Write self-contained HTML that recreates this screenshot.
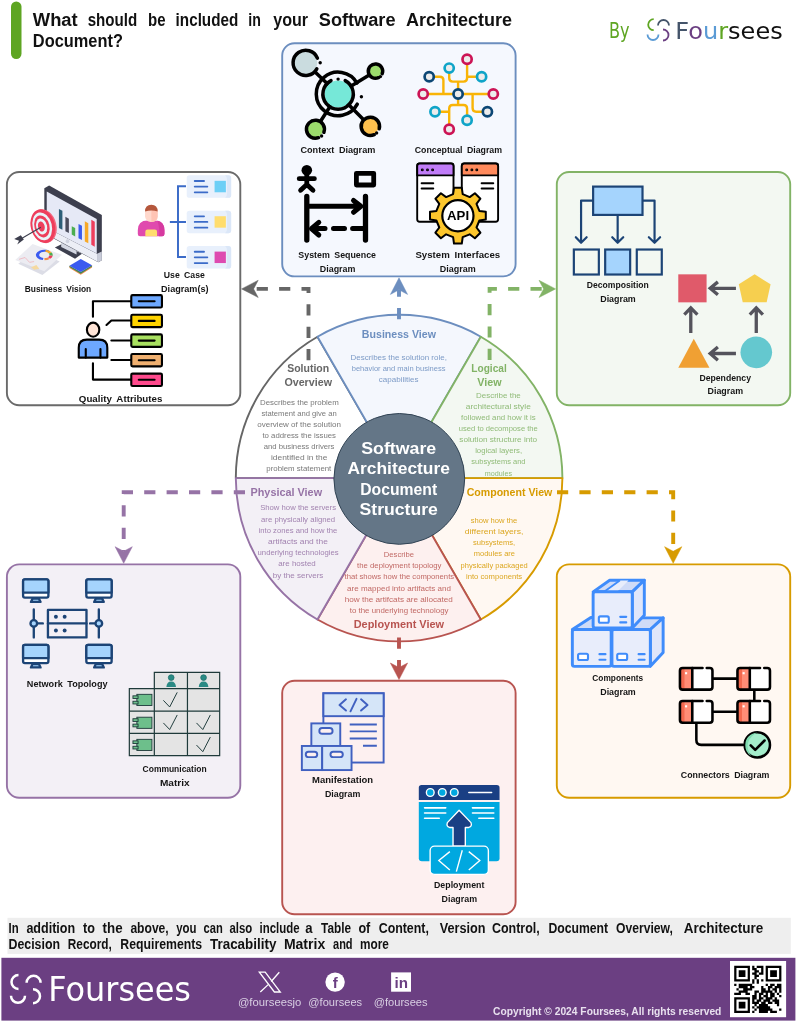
<!DOCTYPE html>
<html lang="en">
<head>
<meta charset="utf-8">
<title>What should be included in your Software Architecture Document?</title>
<style>
html,body{margin:0;padding:0;background:#fff;}
body{width:797px;height:1024px;overflow:hidden;position:relative;font-family:"Liberation Sans",sans-serif;}
svg{position:absolute;left:0;top:0;display:block;will-change:transform;}
text{font-family:"Liberation Sans",sans-serif;}
.dj{font-family:"DejaVu Sans","Liberation Sans",sans-serif;}
.lbl{font-weight:bold;font-size:8.9px;fill:#151515;text-anchor:middle;word-spacing:.22em;transform:translateY(.5px);}
.ttl{font-weight:bold;font-size:11px;text-anchor:middle;}
.dsc{font-size:8px;text-anchor:middle;fill-opacity:.88;}
.ctr{font-weight:bold;font-size:15.6px;text-anchor:middle;}
</style>
</head>
<body>
<svg width="797" height="1024" viewBox="0 0 797 1024">
<!-- ===== header ===== -->
<g id="header">
<rect x="11" y="1.5" width="10.5" height="57.5" rx="5.2" fill="#5ea522"/>
<text x="32.8" y="25.8" font-size="18.8" font-weight="bold" fill="#111" textLength="44.9" lengthAdjust="spacingAndGlyphs">What</text>
<text x="87.7" y="25.8" font-size="18.8" font-weight="bold" fill="#111" textLength="49.6" lengthAdjust="spacingAndGlyphs">should</text>
<text x="148" y="25.8" font-size="18.8" font-weight="bold" fill="#111" textLength="17.5" lengthAdjust="spacingAndGlyphs">be</text>
<text x="175.6" y="25.8" font-size="18.8" font-weight="bold" fill="#111" textLength="62.7" lengthAdjust="spacingAndGlyphs">included</text>
<text x="248.3" y="25.8" font-size="18.8" font-weight="bold" fill="#111" textLength="12.6" lengthAdjust="spacingAndGlyphs">in</text>
<text x="273.2" y="25.8" font-size="18.8" font-weight="bold" fill="#111" textLength="34.9" lengthAdjust="spacingAndGlyphs">your</text>
<text x="318.8" y="25.8" font-size="18.8" font-weight="bold" fill="#111" textLength="76.7" lengthAdjust="spacingAndGlyphs">Software</text>
<text x="405.9" y="25.8" font-size="18.8" font-weight="bold" fill="#111" textLength="106.1" lengthAdjust="spacingAndGlyphs">Architecture</text>

<text x="32.8" y="47.3" font-size="18.8" font-weight="bold" fill="#111" textLength="90.1" lengthAdjust="spacingAndGlyphs">Document?</text>

<text x="609" y="38" font-size="20.5" class="dj" fill="#5ea522" textLength="20.6" lengthAdjust="spacingAndGlyphs">By</text>
<g fill="none" stroke-width="1.8" stroke-linecap="butt"><path d="M653.7,19.2 A5.5,5.5 0 0 0 653.7,30.2" stroke="#5ea522"/><path d="M658.0,25.5 A5.5,5.5 0 0 1 669.0,25.5" stroke="#44546a"/><path d="M647.5,34.5 A5.5,5.5 0 0 0 658.5,34.5" stroke="#5b9bd5"/><path d="M663,29.5 A5.5,5.5 0 0 1 663,40.5" stroke="#6b3f82"/></g>
<text x="675.3" y="39" font-size="23.3" class="dj" textLength="107.4" lengthAdjust="spacingAndGlyphs"><tspan fill="#44546a">F</tspan><tspan fill="#6b3f82">o</tspan><tspan fill="#5b9bd5">u</tspan><tspan fill="#5ea522">r</tspan><tspan fill="#111">sees</tspan></text>
</g>
<!-- ===== boxes ===== -->
<g id="boxes" stroke-width="1.9">
<rect x="282.2" y="43.2" width="233.4" height="233.2" rx="12.3" fill="#f5f8fe" stroke="#6c8ebf"/>
<rect x="6.9" y="172" width="233.4" height="233.3" rx="12.3" fill="#ffffff" stroke="#6a6a6a"/>
<rect x="556.8" y="172" width="233.4" height="233.3" rx="12.3" fill="#f3f8f2" stroke="#82b366"/>
<rect x="6.9" y="564.4" width="233.4" height="233.3" rx="12.3" fill="#f3f0f6" stroke="#9673a6"/>
<rect x="556.8" y="564.4" width="233.4" height="233.3" rx="12.3" fill="#fff8f2" stroke="#d79b00"/>
<rect x="282.2" y="680.7" width="233.4" height="233.6" rx="12.3" fill="#fdf0f0" stroke="#b85450"/>
</g>
<!-- ===== wheel ===== -->
<g id="wheel" stroke-width="1.9" stroke-linejoin="round">
<path d="M399.1,478.1 L317.5,336.7 A163.3,163.3 0 0 0 235.8,478.1 Z" fill="#ffffff" stroke="#666666"/>
<path d="M399.1,478.1 L480.8,336.7 A163.3,163.3 0 0 0 317.5,336.7 Z" fill="#f4f7fd" stroke="#6c8ebf"/>
<path d="M399.1,478.1 L562.4,478.1 A163.3,163.3 0 0 0 480.8,336.7 Z" fill="#f3f8f2" stroke="#82b366"/>
<path d="M399.1,478.1 L480.8,619.5 A163.3,163.3 0 0 0 562.4,478.1 Z" fill="#fff8f2" stroke="#d79b00"/>
<path d="M399.1,478.1 L317.5,619.5 A163.3,163.3 0 0 0 480.8,619.5 Z" fill="#fdf0ef" stroke="#b85450"/>
<path d="M399.1,478.1 L235.8,478.1 A163.3,163.3 0 0 0 317.4,619.5 Z" fill="#f3f0f6" stroke="#9673a6"/>
</g>
<!-- ===== arrows ===== -->
<g id="arrows" fill="none" stroke-width="3.9" stroke-dasharray="11.2 11.2">
<path d="M308.5,360.3 L308.5,288.9 L254,288.9" stroke="#666666"/>
<polygon points="241.6,288.9 258.2,280.3 253.6,288.9 258.2,297.5" fill="#666666" stroke="#666666" stroke-width="0.5" stroke-linejoin="miter" stroke-dasharray="none"/>
<path d="M489.6,360.0 L489.6,288.9 L543,288.9" stroke="#82b366"/>
<polygon points="555.6,288.9 539.0,297.5 543.6,288.9 539.0,280.3" fill="#82b366" stroke="#82b366" stroke-width="0.5" stroke-linejoin="miter" stroke-dasharray="none"/>
<path d="M399,319.2 L399,290" stroke="#6c8ebf"/>
<polygon points="399.0,277.8 407.6,294.4 399.0,289.8 390.4,294.4" fill="#6c8ebf" stroke="#6c8ebf" stroke-width="0.5" stroke-linejoin="miter" stroke-dasharray="none"/>
<path d="M399,637.6 L399,668" stroke="#b85450"/>
<polygon points="399.0,679.6 390.4,663.0 399.0,667.6 407.6,663.0" fill="#b85450" stroke="#b85450" stroke-width="0.5" stroke-linejoin="miter" stroke-dasharray="none"/>
<path d="M245,492.2 L123.7,492.2 L123.7,551" stroke="#9673a6"/>
<polygon points="123.7,563.3 115.1,546.7 123.7,551.3 132.3,546.7" fill="#9673a6" stroke="#9673a6" stroke-width="0.5" stroke-linejoin="miter" stroke-dasharray="none"/>
<path d="M557,492.2 L673.2,492.2 L673.2,551" stroke="#d79b00"/>
<polygon points="673.2,563.3 664.6,546.7 673.2,551.3 681.8,546.7" fill="#d79b00" stroke="#d79b00" stroke-width="0.5" stroke-linejoin="miter" stroke-dasharray="none"/>
</g>
<!-- ===== wtext ===== -->
<g id="wheeltext">
<circle cx="399.3" cy="478.9" r="65.4" fill="#647687" stroke="#314354" stroke-width="1"/>
<text class="ctr" x="398.7" y="454.2" fill="#ffffff" textLength="74.9" lengthAdjust="spacingAndGlyphs">Software</text>
<text class="ctr" x="398.7" y="474.3" fill="#ffffff" textLength="102.4" lengthAdjust="spacingAndGlyphs">Architecture</text>
<text class="ctr" x="398.7" y="494.8" fill="#ffffff" textLength="76.9" lengthAdjust="spacingAndGlyphs">Document</text>
<text class="ctr" x="398.7" y="514.9" fill="#ffffff" textLength="78.3" lengthAdjust="spacingAndGlyphs">Structure</text>
<text class="ttl" x="308.2" y="371.9" fill="#666666" textLength="42.0" lengthAdjust="spacingAndGlyphs">Solution</text>
<text class="ttl" x="308.2" y="386.4" fill="#666666" textLength="47.6" lengthAdjust="spacingAndGlyphs">Overview</text>
<text class="dsc" x="299.4" y="404.9" fill="#666666" textLength="78.9" lengthAdjust="spacingAndGlyphs">Describes the problem</text>
<text class="dsc" x="299.1" y="416.0" fill="#666666" textLength="75.1" lengthAdjust="spacingAndGlyphs">statement and give an</text>
<text class="dsc" x="299.1" y="426.9" fill="#666666" textLength="83.6" lengthAdjust="spacingAndGlyphs">overview of the solution</text>
<text class="dsc" x="299.2" y="438.0" fill="#666666" textLength="73.6" lengthAdjust="spacingAndGlyphs">to address the issues</text>
<text class="dsc" x="299.1" y="449.1" fill="#666666" textLength="70.8" lengthAdjust="spacingAndGlyphs">and business drivers</text>
<text class="dsc" x="299.2" y="460.0" fill="#666666" textLength="56.5" lengthAdjust="spacingAndGlyphs">identified in the</text>
<text class="dsc" x="298.8" y="471.3" fill="#666666" textLength="65.0" lengthAdjust="spacingAndGlyphs">problem statement</text>
<text class="ttl" x="398.9" y="337.5" fill="#6c8ebf" textLength="74.1" lengthAdjust="spacingAndGlyphs">Business View</text>
<text class="dsc" x="398.7" y="360.2" fill="#6c8ebf" textLength="96.4" lengthAdjust="spacingAndGlyphs">Describes the solution role,</text>
<text class="dsc" x="398.6" y="371.2" fill="#6c8ebf" textLength="93.8" lengthAdjust="spacingAndGlyphs">behavior and main business</text>
<text class="dsc" x="398.6" y="381.9" fill="#6c8ebf" textLength="39.6" lengthAdjust="spacingAndGlyphs">capabilities</text>
<text class="ttl" x="489.0" y="371.6" fill="#82b366" textLength="35.4" lengthAdjust="spacingAndGlyphs">Logical</text>
<text class="ttl" x="489.4" y="386.0" fill="#82b366" textLength="24.3" lengthAdjust="spacingAndGlyphs">View</text>
<text class="dsc" x="498.4" y="398.0" fill="#82b366" textLength="44.8" lengthAdjust="spacingAndGlyphs">Describe the</text>
<text class="dsc" x="498.3" y="409.0" fill="#82b366" textLength="65.0" lengthAdjust="spacingAndGlyphs">architectural style</text>
<text class="dsc" x="498.4" y="419.9" fill="#82b366" textLength="74.6" lengthAdjust="spacingAndGlyphs">followed and how it is</text>
<text class="dsc" x="498.3" y="431.0" fill="#82b366" textLength="79.0" lengthAdjust="spacingAndGlyphs">used to decompose the</text>
<text class="dsc" x="498.2" y="442.2" fill="#82b366" textLength="77.8" lengthAdjust="spacingAndGlyphs">solution structure into</text>
<text class="dsc" x="498.6" y="453.3" fill="#82b366" textLength="46.9" lengthAdjust="spacingAndGlyphs">logical layers,</text>
<text class="dsc" x="498.4" y="464.4" fill="#82b366" textLength="54.2" lengthAdjust="spacingAndGlyphs">subsystems and</text>
<text class="dsc" x="498.4" y="475.6" fill="#82b366" textLength="27.2" lengthAdjust="spacingAndGlyphs">modules</text>
<text class="ttl" x="509.5" y="496.3" fill="#d79b00" textLength="85.7" lengthAdjust="spacingAndGlyphs">Component View</text>
<text class="dsc" x="494.0" y="522.7" fill="#d79b00" textLength="46.6" lengthAdjust="spacingAndGlyphs">show how the</text>
<text class="dsc" x="494.1" y="533.8" fill="#d79b00" textLength="58.5" lengthAdjust="spacingAndGlyphs">different layers,</text>
<text class="dsc" x="494.1" y="545.0" fill="#d79b00" textLength="42.2" lengthAdjust="spacingAndGlyphs">subsystems,</text>
<text class="dsc" x="494.4" y="556.4" fill="#d79b00" textLength="41.3" lengthAdjust="spacingAndGlyphs">modules are</text>
<text class="dsc" x="494.2" y="567.5" fill="#d79b00" textLength="67.2" lengthAdjust="spacingAndGlyphs">physically packaged</text>
<text class="dsc" x="494.1" y="578.6" fill="#d79b00" textLength="56.2" lengthAdjust="spacingAndGlyphs">into components</text>
<text class="dsc" x="398.9" y="557.1" fill="#b85450" textLength="30.1" lengthAdjust="spacingAndGlyphs">Describe</text>
<text class="dsc" x="399.3" y="568.1" fill="#b85450" textLength="84.4" lengthAdjust="spacingAndGlyphs">the deployment topology</text>
<text class="dsc" x="399.3" y="579.4" fill="#b85450" textLength="109.6" lengthAdjust="spacingAndGlyphs">that shows how the components</text>
<text class="dsc" x="399.0" y="590.6" fill="#b85450" textLength="103.8" lengthAdjust="spacingAndGlyphs">are mapped into artifacts and</text>
<text class="dsc" x="398.8" y="601.6" fill="#b85450" textLength="108.2" lengthAdjust="spacingAndGlyphs">how the artifcats are allocated</text>
<text class="dsc" x="399.1" y="612.7" fill="#b85450" textLength="98.8" lengthAdjust="spacingAndGlyphs">to the underlying technology</text>
<text class="ttl" x="398.9" y="628.0" fill="#b85450" textLength="90.4" lengthAdjust="spacingAndGlyphs">Deployment View</text>
<text class="ttl" x="286.3" y="496.3" fill="#9673a6" textLength="71.6" lengthAdjust="spacingAndGlyphs">Physical View</text>
<text class="dsc" x="298.1" y="510.4" fill="#9673a6" textLength="75.9" lengthAdjust="spacingAndGlyphs">Show how the servers</text>
<text class="dsc" x="298.1" y="521.8" fill="#9673a6" textLength="74.1" lengthAdjust="spacingAndGlyphs">are physically aligned</text>
<text class="dsc" x="298.0" y="532.9" fill="#9673a6" textLength="78.7" lengthAdjust="spacingAndGlyphs">into zones and how the</text>
<text class="dsc" x="297.9" y="543.8" fill="#9673a6" textLength="59.8" lengthAdjust="spacingAndGlyphs">artifacts and the</text>
<text class="dsc" x="298.1" y="555.2" fill="#9673a6" textLength="81.1" lengthAdjust="spacingAndGlyphs">underlying technologies</text>
<text class="dsc" x="297.0" y="566.3" fill="#9673a6" textLength="37.6" lengthAdjust="spacingAndGlyphs">are hosted</text>
<text class="dsc" x="298.1" y="577.5" fill="#9673a6" textLength="50.6" lengthAdjust="spacingAndGlyphs">by the servers</text>
</g>
<!-- ===== box_top ===== -->
<g id="box_top">
<g fill="none" stroke="#000" stroke-width="3.5" stroke-linecap="round">
<path d="M305.7,62.9 L338.1,94 M375.4,71.2 L338.1,94 M315.4,129.2 L338.1,94 M370.3,126.4 L338.1,94"/>
<path d="M357.3,104.2 A21.8,21.8 0 1 1 357.0,83.1"/>
<circle cx="361.4" cy="96.8" r="1.7" fill="#000" stroke="none"/>
<circle cx="338.1" cy="94" r="13.6" fill="#76e8d8" stroke="none"/>
<path d="M345.2,80.6 A15.2,15.2 0 1 1 331.0,80.6"/>
<circle cx="338.1" cy="79.1" r="1.7" fill="#000" stroke="none"/>
<circle cx="305.7" cy="62.9" r="11.5" fill="#cadcdf" stroke="none"/>
<path d="M316.8,68.8 A12.6,12.6 0 1 1 317.4,58.2"/>
<circle cx="320.2" cy="62.7" r="1.7" fill="#000" stroke="none"/>
<circle cx="375.4" cy="71.2" r="6.2" fill="#9cdc6c" stroke="none"/>
<path d="M378.4,77.7 A7.2,7.2 0 1 1 382.2,73.7"/>
<circle cx="380.4" cy="76.6" r="1.7" fill="#000" stroke="none"/>
<circle cx="315.4" cy="129.2" r="8" fill="#9cdc6c" stroke="none"/>
<path d="M318.5,137.7 A9,9 0 1 1 323.9,132.3"/>
<circle cx="321.6" cy="136" r="1.7" fill="#000" stroke="none"/>
<circle cx="370.3" cy="126.4" r="8.2" fill="#fdc04e" stroke="none"/>
<path d="M374.2,134.7 A9.2,9.2 0 1 1 379.2,128.8"/>
<circle cx="376.6" cy="133" r="1.7" fill="#000" stroke="none"/>
</g>
<g fill="none" stroke="#f9b406" stroke-width="2.4" stroke-linecap="butt">
<path d="M467.1,63 V78 Q467.1,81.6 463.5,81.6 H452.8 Q449.2,81.6 449.2,78 V72 M467.1,76.7 H477 M458.1,81.6 V94 M428,94 H488.5 M434,76.7 H439.8 Q443.4,76.7 443.4,80.3 V94 M472.6,94 V108 Q472.6,111.7 476.2,111.7 H482.6 M458.1,94 V105 M449.2,124.4 V108.6 Q449.2,105 452.8,105 H463.5 Q467.1,105 467.1,108.6 V115.4 M439.8,111.7 H449.2"/>
</g>
<g fill="#ececec" stroke-width="2.7">
<circle cx="458.1" cy="94" r="4.6" stroke="#0c4775"/>
<circle cx="467.1" cy="59.2" r="4.6" stroke="#cc1455"/>
<circle cx="449.2" cy="68.1" r="4.6" stroke="#0fa4c8"/>
<circle cx="429.2" cy="76.7" r="4.6" stroke="#0c4775"/>
<circle cx="481.6" cy="76.7" r="4.6" stroke="#0fa4c8"/>
<circle cx="423.2" cy="94" r="4.6" stroke="#cc1455"/>
<circle cx="493.3" cy="94" r="4.6" stroke="#cc1455"/>
<circle cx="435" cy="111.7" r="4.6" stroke="#0fa4c8"/>
<circle cx="487.4" cy="111.7" r="4.6" stroke="#0c4775"/>
<circle cx="467.1" cy="120.2" r="4.6" stroke="#0fa4c8"/>
<circle cx="449.2" cy="129.2" r="4.6" stroke="#cc1455"/>
</g>
<g fill="none" stroke="#000" stroke-linecap="round" stroke-linejoin="round">
<circle cx="306.8" cy="170.2" r="5.3" fill="#000" stroke="none"/>
<path d="M299.2,178.7 H314.4 M306.8,174 V185 M306.8,184.5 L300.6,190.3 M306.8,184.5 L313,190.3" stroke-width="4.8"/>
<path d="M306.8,196.5 V240 M365.5,196.5 V240" stroke-width="5.3"/>
<rect x="356.4" y="173.3" width="17.3" height="11.7" stroke-width="4.8"/>
<path d="M309.6,206.3 H360 M353.5,200.5 L360.9,206.3 L353.5,212.3 M352.6,228.6 H365 M333.5,228.6 H344.5 M312,228.6 H325 M318.8,222.4 L311.4,228.6 L318.8,235" stroke-width="5"/>
</g>
<g stroke="#000" stroke-width="1.9" stroke-linecap="round" stroke-linejoin="round" fill="#fff">
<rect x="417.2" y="163.5" width="36.3" height="58.2" rx="2.5"/>
<path d="M417.2,175.4 V166 Q417.2,163.5 419.7,163.5 H451.0 Q453.5,163.5 453.5,166 V175.4 Z" fill="#c07cf8"/>
<circle cx="422.3" cy="169.9" r="0.5" fill="#000"/>
<circle cx="427.5" cy="169.9" r="0.5" fill="#000"/>
<circle cx="432.6" cy="169.9" r="0.5" fill="#000"/>
<path d="M421.6,183.3 H433.3 M421.6,188.5 H433.3" fill="none"/>
<rect x="461.8" y="163.5" width="36.3" height="58.2" rx="2.5"/>
<path d="M461.8,175.4 V166 Q461.8,163.5 464.3,163.5 H495.6 Q498.1,163.5 498.1,166 V175.4 Z" fill="#ff8a5c"/>
<circle cx="466.7" cy="169.9" r="0.5" fill="#000"/>
<circle cx="471.9" cy="169.9" r="0.5" fill="#000"/>
<circle cx="476.8" cy="169.9" r="0.5" fill="#000"/>
<path d="M481.6,183.3 H493.3 M481.6,188.5 H493.3" fill="none"/>
<path d="M453.1,194.2 L454.0,187.8 L461.8,187.8 L462.7,194.2 L469.7,197.1 L474.9,193.2 L480.4,198.7 L476.5,203.9 L479.4,210.9 L485.8,211.8 L485.8,219.6 L479.4,220.5 L476.5,227.5 L480.4,232.7 L474.9,238.2 L469.7,234.3 L462.7,237.2 L461.8,243.6 L454.0,243.6 L453.1,237.2 L446.1,234.3 L440.9,238.2 L435.4,232.7 L439.3,227.5 L436.4,220.5 L430.0,219.6 L430.0,211.8 L436.4,210.9 L439.3,203.9 L435.4,198.7 L440.9,193.2 L446.1,197.1 Z" fill="#fcc62d" stroke-width="2" stroke-linejoin="round"/>
<circle cx="457.9" cy="215.7" r="15.6" fill="#fff" stroke-width="2.2"/>
</g>
<text x="458.1" y="219.9" font-size="12.5" font-weight="bold" fill="#000" text-anchor="middle" textLength="22" lengthAdjust="spacingAndGlyphs">API</text>
<text class="lbl" x="337.9" y="152.7" textLength="74.9" lengthAdjust="spacingAndGlyphs">Context Diagram</text>
<text class="lbl" x="458.4" y="152.7" textLength="87.3" lengthAdjust="spacingAndGlyphs">Conceptual Diagram</text>
<text class="lbl" x="337.2" y="257.4" textLength="77.7" lengthAdjust="spacingAndGlyphs">System Sequence</text>
<text class="lbl" x="337.6" y="271.6" textLength="35.6" lengthAdjust="spacingAndGlyphs">Diagram</text>
<text class="lbl" x="457.8" y="257.4" textLength="84.8" lengthAdjust="spacingAndGlyphs">System Interfaces</text>
<text class="lbl" x="457.8" y="271.6" textLength="35.9" lengthAdjust="spacingAndGlyphs">Diagram</text>
</g>
<!-- ===== box_lt ===== -->
<g id="box_lt">
<g transform="translate(10,175) scale(0.15056)">
<polygon points="55,590 170,500 330,575 215,665" fill="#dcdde6"/>
<polygon points="35,565 150,458 345,530 228,640" fill="#ececf2"/>
<path d="M60,560 L100,548 L130,580 L160,575" fill="none" stroke="#f0a0a8" stroke-width="4"/>
<polygon points="140,612 175,598 195,622 160,630" fill="#f5d9a0"/>
<g transform="translate(228,531) scale(1,0.62)"><circle r="45" fill="none" stroke="#3b5bf0" stroke-width="22" stroke-dasharray="160 300" transform="rotate(100)"/><circle r="45" fill="none" stroke="#f7a928" stroke-width="22" stroke-dasharray="40 300" transform="rotate(-80)"/><circle r="45" fill="none" stroke="#4caf50" stroke-width="22" stroke-dasharray="28 300" transform="rotate(-28)"/><circle r="45" fill="none" stroke="#ee3e5c" stroke-width="22" stroke-dasharray="30 300" transform="rotate(8)"/><circle r="45" fill="none" stroke="#f08a4a" stroke-width="22" stroke-dasharray="30 300" transform="rotate(50)"/></g>
<polygon points="298,482 345,458 478,523 432,556" fill="#3d3f4e"/>
<polygon points="340,440 442,492 442,528 340,478" fill="#d5d8e3"/>
<polygon points="228,88 260,70 610,265 610,566 586,580 228,388" fill="#3d3f4e"/>
<polygon points="244,350 578,523 578,574 244,394" fill="#eceef6"/>
<polygon points="578,523 610,508 610,566 586,580 578,574" fill="#c9ccd9"/>
<polygon points="244,110 576,293 576,522 244,350" fill="#e6e9f6"/>
<ellipse cx="382" cy="440" rx="12" ry="14" fill="#cfd2df"/>
<polygon points="325,225 348,237 348,364 325,352" fill="#2d5f78"/>
<polygon points="368,278 391,290 391,386 368,374" fill="#4a4c5c"/>
<polygon points="410,340 433,352 433,408 410,396" fill="#4caf50"/>
<polygon points="455,325 478,337 478,432 455,420" fill="#3b5bf0"/>
<polygon points="497,308 520,320 520,453 497,441" fill="#f7a928"/>
<polygon points="540,298 563,310 563,476 540,464" fill="#ee3e5c"/>
<g transform="translate(218,340) rotate(-14)">
<ellipse cx="8" cy="2" rx="82" ry="114" fill="#f3677f"/>
<ellipse rx="80" ry="114" fill="#ee3e5c"/>
<ellipse cx="-4" rx="64" ry="94" fill="#e8f4fa"/>
<ellipse cx="-6" rx="50" ry="74" fill="#ee3e5c"/>
<ellipse cx="-8" rx="36" ry="54" fill="#e8f4fa"/>
<ellipse cx="-10" rx="22" ry="34" fill="#ee3e5c"/>
</g>
<path d="M205,347 L60,432" stroke="#3d3f4e" stroke-width="7" fill="none"/>
<polygon points="28,425 72,400 92,428 48,462 60,436" fill="#3d3f4e"/>
<polygon points="395,618 470,663 545,615 545,600 470,645 395,603" fill="#f08a4a"/>
<polygon points="395,611 470,656 545,608 545,600 470,645 395,603" fill="#3a8a5a"/>
<polygon points="395,603 470,558 545,600 470,645" fill="#3b5bf0"/>
</g>
<g transform="translate(125,170) scale(0.15056)">
<path d="M298,345 H405 M405,108 H352 V578 H405" fill="none" stroke="#3b6bc8" stroke-width="13"/>
<rect x="410" y="35" width="295" height="150" rx="18" fill="#e8f0fc"/>
<path d="M665,35 H687 Q705,35 705,53 V167 Q705,185 687,185 H665 Q678,175 678,155 V65 Q678,45 665,35 Z" fill="#dbe7f8"/>
<path d="M463,73 H525 M463,110 H547 M463,148 H547" fill="none" stroke="#3b6bc8" stroke-width="12" stroke-linecap="round"/>
<rect x="595" y="72" width="75" height="76" fill="#6dcff6"/>
<rect x="410" y="270" width="295" height="150" rx="18" fill="#e8f0fc"/>
<path d="M665,270 H687 Q705,270 705,288 V402 Q705,420 687,420 H665 Q678,410 678,390 V300 Q678,280 665,270 Z" fill="#dbe7f8"/>
<path d="M463,308 H525 M463,345 H547 M463,383 H547" fill="none" stroke="#3b6bc8" stroke-width="12" stroke-linecap="round"/>
<rect x="595" y="307" width="75" height="76" fill="#ffdd6e"/>
<rect x="410" y="505" width="295" height="150" rx="18" fill="#e8f0fc"/>
<path d="M665,505 H687 Q705,505 705,523 V637 Q705,655 687,655 H665 Q678,645 678,625 V535 Q678,515 665,505 Z" fill="#dbe7f8"/>
<path d="M463,543 H525 M463,580 H547 M463,618 H547" fill="none" stroke="#3b6bc8" stroke-width="12" stroke-linecap="round"/>
<rect x="595" y="542" width="75" height="76" fill="#de4ab0"/>
<path d="M85,440 V400 Q85,335 150,335 H198 Q262,335 262,400 V425 Q262,440 247,440 H100 Q85,440 85,425 Z" fill="#e04aae"/>
<path d="M215,337 Q262,345 262,400 V425 Q262,440 247,440 H225 Q235,400 215,337 Z" fill="#d63aa0"/>
<rect x="133" y="245" width="84" height="100" rx="38" fill="#ffd8cc"/>
<path d="M175,245 H180 Q217,250 217,283 V307 Q217,345 175,345 Z" fill="#ffc4b4"/>
<path d="M133,275 Q133,230 175,230 Q217,230 217,275 Q175,262 133,275 Z" fill="#b5573c"/>
<path d="M135,440 V410 Q135,395 150,395 H198 Q213,395 213,410 V440 Z" fill="#ffdd6e"/>
</g>
<g transform="translate(60,285) scale(0.16311)" stroke="#000" stroke-width="13" stroke-linecap="round" stroke-linejoin="round" fill="none">
<path d="M202,195 V100 H437 M285,245 L315,218 H437 M315,340 H437 M315,460 H437 M202,480 V580 H437"/>
<rect x="437" y="62" width="188" height="76" rx="8" fill="#6da8ff"/>
<path d="M483,100 H580"/>
<rect x="437" y="182" width="188" height="76" rx="8" fill="#ffd400"/>
<path d="M483,220 H580"/>
<rect x="437" y="303" width="188" height="76" rx="8" fill="#a8e060"/>
<path d="M483,341 H580"/>
<rect x="437" y="423" width="188" height="76" rx="8" fill="#f0b070"/>
<path d="M483,461 H580"/>
<rect x="437" y="543" width="188" height="76" rx="8" fill="#ff4a8d"/>
<path d="M483,581 H580"/>
<path d="M115,445 V385 Q115,335 165,335 H240 Q290,335 290,385 V445 Z" fill="#6da8ff"/>
<path d="M158,392 V445 M248,392 V445"/>
<ellipse cx="203" cy="274" rx="38" ry="43" fill="#ffe4d6"/>
</g>
<text class="lbl" x="58.0" y="291.7" textLength="66.5" lengthAdjust="spacingAndGlyphs">Business Vision</text>
<text class="lbl" x="184.3" y="277.2" textLength="41.0" lengthAdjust="spacingAndGlyphs">Use Case</text>
<text class="lbl" x="184.8" y="291.2" textLength="47.5" lengthAdjust="spacingAndGlyphs">Diagram(s)</text>
<text class="lbl" x="120.6" y="401.1" textLength="83.6" lengthAdjust="spacingAndGlyphs">Quality Attributes</text>
</g>
<!-- ===== box_rt ===== -->
<g id="box_rt">
<g transform="translate(560,175) scale(0.15056)" stroke="#1c4476" stroke-width="14.5" fill="none" stroke-linejoin="miter">
<path d="M220,170 H140 V448 M105,413 L140,450 L177,413 M383,265 V448 M347,413 L383,450 L420,413 M548,170 H628 V448 M590,413 L628,450 L665,413" stroke-linecap="round" stroke-linejoin="round"/>
<rect x="220" y="77" width="328" height="188" fill="#a5d4fd"/>
<rect x="92" y="495" width="166" height="166"/>
<rect x="300" y="495" width="166" height="166" fill="#a5d4fd"/>
<rect x="510" y="495" width="166" height="166"/>
</g>
<g transform="translate(670,265) scale(0.15056)">
<rect x="55" y="62" width="188" height="186" fill="#e05a6a"/>
<polygon points="562,62 668,128 642,247 483,247 457,128" fill="#f6cf4f"/>
<polygon points="158,490 262,683 55,683" fill="#f0a033"/>
<circle cx="573" cy="580" r="105" fill="#64c8cf"/>
<path d="M438,155 H270 M318,112 L267,155 L318,198 M438,588 H270 M318,545 L267,588 L318,632 M138,452 V290 M95,330 L138,285 L182,330 M573,452 V290 M530,330 L573,285 L617,330" fill="none" stroke="#54535c" stroke-width="22" stroke-linecap="butt" stroke-linejoin="miter"/>
</g>
<text class="lbl" x="617.8" y="287.6" textLength="62.0" lengthAdjust="spacingAndGlyphs">Decomposition</text>
<text class="lbl" x="618.0" y="301.5" textLength="35.5" lengthAdjust="spacingAndGlyphs">Diagram</text>
<text class="lbl" x="725.2" y="380.2" textLength="51.6" lengthAdjust="spacingAndGlyphs">Dependency</text>
<text class="lbl" x="725.3" y="393.7" textLength="35.4" lengthAdjust="spacingAndGlyphs">Diagram</text>
</g>
<!-- ===== box_lb ===== -->
<g id="box_lb">
<g transform="translate(10,570) scale(0.15056)" stroke="#1c4476" stroke-width="15.5" fill="none" stroke-linejoin="round" stroke-linecap="round">
<path d="M150,190 L139,212 H203 L192,190 Z" fill="#a5d4fd"/>
<rect x="87" y="62" width="168" height="121" rx="12" fill="#ffffff"/>
<path d="M87,150 V74 Q87,62 99,62 H243 Q255,62 255,74 V150 Z" fill="#a5d4fd"/>
<path d="M570,190 L559,212 H623 L612,190 Z" fill="#a5d4fd"/>
<rect x="507" y="62" width="168" height="121" rx="12" fill="#ffffff"/>
<path d="M507,150 V74 Q507,62 519,62 H663 Q675,62 675,74 V150 Z" fill="#a5d4fd"/>
<path d="M150,625 L139,647 H203 L192,625 Z" fill="#a5d4fd"/>
<rect x="87" y="497" width="168" height="121" rx="12" fill="#ffffff"/>
<path d="M87,585 V509 Q87,497 99,497 H243 Q255,497 255,509 V585 Z" fill="#a5d4fd"/>
<path d="M570,625 L559,647 H623 L612,625 Z" fill="#a5d4fd"/>
<rect x="507" y="497" width="168" height="121" rx="12" fill="#ffffff"/>
<path d="M507,585 V509 Q507,497 519,497 H663 Q675,497 675,509 V585 Z" fill="#a5d4fd"/>
<rect x="252" y="265" width="256" height="183"/>
<path d="M252,355 H508 M158,262 V448 M180,355 H218 M590,262 V448 M532,355 H568"/>
<circle cx="158" cy="355" r="22" fill="#a5d4fd"/><circle cx="590" cy="355" r="22" fill="#a5d4fd"/>
<circle cx="305" cy="310" r="13" fill="#1c4476" stroke="none"/>
<circle cx="363" cy="310" r="13" fill="#1c4476" stroke="none"/>
<circle cx="305" cy="402" r="13" fill="#1c4476" stroke="none"/>
<circle cx="363" cy="402" r="13" fill="#1c4476" stroke="none"/>
</g>
<g transform="translate(120,660) scale(0.15056)" stroke="#1e3a3a" stroke-width="8" fill="none">
<path d="M228,82 H662 V635 H62 V190 H228 Z" fill="#e4e4e4"/>
<path d="M228,190 V635 M448,82 V635 M228,190 H662 M62,340 H662 M62,487 H662"/>
<circle cx="340" cy="117" r="19" fill="#2a8a84" stroke-width="5" stroke="#1e6f6a"/>
<path d="M308,180 Q310,143 340,143 Q370,143 372,180 Z" fill="#2a8a84" stroke="none"/>
<circle cx="555" cy="117" r="19" fill="#2a8a84" stroke-width="5" stroke="#1e6f6a"/>
<path d="M523,180 Q525,143 555,143 Q585,143 587,180 Z" fill="#2a8a84" stroke="none"/>
<rect x="112" y="228" width="100" height="74" fill="#6dbf8b" stroke-width="6"/>
<rect x="86" y="238" width="34" height="18" fill="#6dbf8b" stroke-width="6"/><rect x="86" y="274" width="34" height="18" fill="#6dbf8b" stroke-width="6"/>
<rect x="112" y="380" width="100" height="74" fill="#6dbf8b" stroke-width="6"/>
<rect x="86" y="390" width="34" height="18" fill="#6dbf8b" stroke-width="6"/><rect x="86" y="426" width="34" height="18" fill="#6dbf8b" stroke-width="6"/>
<rect x="112" y="527" width="100" height="74" fill="#6dbf8b" stroke-width="6"/>
<rect x="86" y="537" width="34" height="18" fill="#6dbf8b" stroke-width="6"/><rect x="86" y="573" width="34" height="18" fill="#6dbf8b" stroke-width="6"/>
<path d="M288,268 L330,312 L380,215" stroke-width="6.5"/>
<path d="M288,418 L330,462 L380,365" stroke-width="6.5"/>
<path d="M508,418 L550,462 L600,365" stroke-width="6.5"/>
<path d="M508,565 L550,609 L600,512" stroke-width="6.5"/>
</g>
<text class="lbl" x="67.2" y="686.7" textLength="80.7" lengthAdjust="spacingAndGlyphs">Network Topology</text>
<text class="lbl" x="174.6" y="771.1" textLength="64.0" lengthAdjust="spacingAndGlyphs">Communication</text>
<text class="lbl" x="174.8" y="785" textLength="29.7" lengthAdjust="spacingAndGlyphs">Matrix</text>
</g>
<!-- ===== box_rb ===== -->
<g id="box_rb">
<g transform="translate(560,570) scale(0.15056)" stroke="#3f8cfb" stroke-width="19.5" fill="#e8edfb" stroke-linejoin="round" stroke-linecap="round">
<polygon points="82,395 205,315 340,315 340,395" fill="#cfdbf7"/>
<rect x="82" y="395" width="258" height="245" rx="14"/>
<polygon points="345,395 440,318 685,318 600,395" fill="#cfdbf7"/>
<polygon points="600,395 685,318 685,548 600,640" fill="#dfe6fa"/>
<rect x="345" y="395" width="255" height="245" rx="14"/>
<polygon points="220,145 330,68 560,68 480,145" fill="#cfdbf7"/>
<polygon points="480,145 560,68 560,300 480,385" fill="#dfe6fa"/>
<polygon points="395,70 455,70 385,140 300,140" fill="#e8edfb" stroke="none"/>
<path d="M395,72 L300,140" fill="none" stroke-width="12"/>
<rect x="220" y="145" width="260" height="240" rx="14"/>
<rect x="258" y="308" width="66" height="42" rx="10" fill="#fff" stroke-width="14"/>
<path d="M400,311 H440 M400,348 H440" fill="none" stroke-width="14"/>
<rect x="120" y="556" width="66" height="42" rx="10" fill="#fff" stroke-width="14"/>
<path d="M262,559 H302 M262,596 H302" fill="none" stroke-width="14"/>
<rect x="380" y="556" width="66" height="42" rx="10" fill="#fff" stroke-width="14"/>
<path d="M522,559 H562 M522,596 H562" fill="none" stroke-width="14"/>
</g>
<g transform="translate(670,655) scale(0.15056)" stroke="#000" stroke-width="17" fill="none" stroke-linejoin="round" stroke-linecap="round">
<path d="M290,157 H440 M290,377 H440 M560,238 V298 M175,458 V565 Q175,597 207,597 H485"/>
<rect x="66" y="86" width="216" height="144" rx="18" fill="#fff" stroke="none"/>
<path d="M146,86 H84 Q66,86 66,104 V212 Q66,230 84,230 H146 Z" fill="#ff8d76" stroke="none"/>
<rect x="70" y="90" width="26" height="136" fill="#f2694f" stroke="none"/>
<rect x="100" y="114" width="14" height="14" fill="#fff" stroke="none"/>
<path d="M148,86 V230"/>
<path d="M216,86 H84 Q66,86 66,104 V212 Q66,230 84,230 H264 Q282,230 282,212 V104 Q282,86 264,86 H244"/>
<rect x="448" y="86" width="216" height="144" rx="18" fill="#fff" stroke="none"/>
<path d="M528,86 H466 Q448,86 448,104 V212 Q448,230 466,230 H528 Z" fill="#ff8d76" stroke="none"/>
<rect x="452" y="90" width="26" height="136" fill="#f2694f" stroke="none"/>
<rect x="482" y="114" width="14" height="14" fill="#fff" stroke="none"/>
<path d="M530,86 V230"/>
<path d="M598,86 H466 Q448,86 448,104 V212 Q448,230 466,230 H646 Q664,230 664,212 V104 Q664,86 646,86 H626"/>
<rect x="66" y="306" width="216" height="144" rx="18" fill="#fff" stroke="none"/>
<path d="M146,306 H84 Q66,306 66,324 V432 Q66,450 84,450 H146 Z" fill="#ff8d76" stroke="none"/>
<rect x="70" y="310" width="26" height="136" fill="#f2694f" stroke="none"/>
<rect x="100" y="334" width="14" height="14" fill="#fff" stroke="none"/>
<path d="M148,306 V450"/>
<path d="M216,306 H84 Q66,306 66,324 V432 Q66,450 84,450 H264 Q282,450 282,432 V324 Q282,306 264,306 H244"/>
<rect x="448" y="306" width="216" height="144" rx="18" fill="#fff" stroke="none"/>
<path d="M528,306 H466 Q448,306 448,324 V432 Q448,450 466,450 H528 Z" fill="#ff8d76" stroke="none"/>
<rect x="452" y="310" width="26" height="136" fill="#f2694f" stroke="none"/>
<rect x="482" y="334" width="14" height="14" fill="#fff" stroke="none"/>
<path d="M530,306 V450"/>
<path d="M598,306 H466 Q448,306 448,324 V432 Q448,450 466,450 H646 Q664,450 664,432 V324 Q664,306 646,306 H626"/>
<circle cx="580" cy="597" r="84" fill="#a4edcb"/>
<path d="M500,597 A80,80 0 0 1 580,517 A95,95 0 0 0 540,670 A80,80 0 0 1 500,597 Z" fill="#7fdcb0" stroke="none"/>
<path d="M536,600 L566,630 L628,568"/>
</g>
<text class="lbl" x="617.8" y="680.7" textLength="50.9" lengthAdjust="spacingAndGlyphs">Components</text>
<text class="lbl" x="618.0" y="694.7" textLength="35.5" lengthAdjust="spacingAndGlyphs">Diagram</text>
<text class="lbl" x="725.1" y="777.3" textLength="88.6" lengthAdjust="spacingAndGlyphs">Connectors Diagram</text>
</g>
<!-- ===== box_bot ===== -->
<g id="box_bot">
<g transform="translate(285,685) scale(0.15056)" stroke="#4060c0" stroke-width="12.8" fill="none" stroke-linejoin="miter">
<rect x="255" y="55" width="400" height="460" fill="#fdf0f0"/>
<rect x="255" y="55" width="400" height="152" fill="#d5e5f8"/>
<path d="M405,95 L362,133 L405,170 M475,92 L435,175 M505,95 L548,133 L505,170" stroke-linecap="round" stroke-linejoin="round"/>
<path d="M430,262 H610 M430,308 H610 M430,355 H610 M518,403 H610"/>
<rect x="175" y="255" width="192" height="150" fill="#d5e5f8"/>
<rect x="112" y="405" width="135" height="160" fill="#d5e5f8"/>
<rect x="247" y="405" width="195" height="160" fill="#d5e5f8"/>
<rect x="228" y="286" width="88" height="38" rx="19" fill="#fdf0f0"/>
<rect x="138" y="443" width="76" height="36" rx="18" fill="#fdf0f0"/>
<rect x="302" y="443" width="82" height="36" rx="18" fill="#fdf0f0"/>
</g>
<g transform="translate(405,775) scale(0.13803)" stroke="#fff" stroke-width="10" fill="none" stroke-linejoin="round" stroke-linecap="round">
<path d="M100,182 V92 Q100,72 120,72 H665 Q685,72 685,92 V182 Z" fill="#1a3f84" stroke="none"/>
<path d="M100,195 H685 V603 Q685,625 663,625 H122 Q100,625 100,603 Z" fill="#00a8e0" stroke="none"/>
<circle cx="183" cy="127" r="28" fill="#00a8e0"/>
<circle cx="270" cy="127" r="28" fill="#00a8e0"/>
<circle cx="357" cy="127" r="28" fill="#00a8e0"/>
<path d="M462,127 H628"/>
<path d="M142,238 H295 M142,275 H295 M142,313 H248 M489,238 H643 M489,275 H643 M535,313 H643" stroke-width="12"/>
<path d="M392,256 L478,345 Q488,372 462,380 H437 V515 H348 V380 H323 Q297,372 307,345 Z" fill="#1a3f84"/>
<rect x="182" y="515" width="422" height="205" rx="32" fill="#00a8e0"/>
<path d="M325,555 L245,620 L325,688 M415,545 L372,700 M462,555 L542,620 L462,688" stroke-linejoin="miter" stroke-linecap="butt"/>
</g>
<text class="lbl" x="342.6" y="782.1" textLength="61.0" lengthAdjust="spacingAndGlyphs">Manifestation</text>
<text class="lbl" x="342.6" y="796.1" textLength="35.4" lengthAdjust="spacingAndGlyphs">Diagram</text>
<text class="lbl" x="459.2" y="887.5" textLength="50.4" lengthAdjust="spacingAndGlyphs">Deployment</text>
<text class="lbl" x="459.3" y="901.6" textLength="35.4" lengthAdjust="spacingAndGlyphs">Diagram</text>
</g>
<!-- ===== footer ===== -->
<g id="footer">
<rect x="7.5" y="917.8" width="783.3" height="36.1" fill="#eeeeee"/>
<text x="8.5" y="932.8" font-size="13.8" font-weight="bold" fill="#111" textLength="10.1" lengthAdjust="spacingAndGlyphs">In</text>
<text x="26.4" y="932.8" font-size="13.8" font-weight="bold" fill="#111" textLength="48.8" lengthAdjust="spacingAndGlyphs">addition</text>
<text x="83" y="932.8" font-size="13.8" font-weight="bold" fill="#111" textLength="11.9" lengthAdjust="spacingAndGlyphs">to</text>
<text x="102.6" y="932.8" font-size="13.8" font-weight="bold" fill="#111" textLength="20.0" lengthAdjust="spacingAndGlyphs">the</text>
<text x="130.4" y="932.8" font-size="13.8" font-weight="bold" fill="#111" textLength="38.3" lengthAdjust="spacingAndGlyphs">above,</text>
<text x="176.2" y="932.8" font-size="13.8" font-weight="bold" fill="#111" textLength="20.3" lengthAdjust="spacingAndGlyphs">you</text>
<text x="203.6" y="932.8" font-size="13.8" font-weight="bold" fill="#111" textLength="19.2" lengthAdjust="spacingAndGlyphs">can</text>
<text x="229.4" y="932.8" font-size="13.8" font-weight="bold" fill="#111" textLength="22.8" lengthAdjust="spacingAndGlyphs">also</text>
<text x="259.5" y="932.8" font-size="13.8" font-weight="bold" fill="#111" textLength="40.0" lengthAdjust="spacingAndGlyphs">include</text>
<text x="305.2" y="932.8" font-size="13.8" font-weight="bold" fill="#111" textLength="7.3" lengthAdjust="spacingAndGlyphs">a</text>
<text x="321.1" y="932.8" font-size="13.8" font-weight="bold" fill="#111" textLength="29.9" lengthAdjust="spacingAndGlyphs">Table</text>
<text x="358.4" y="932.8" font-size="13.8" font-weight="bold" fill="#111" textLength="11.9" lengthAdjust="spacingAndGlyphs">of</text>
<text x="378.7" y="932.8" font-size="13.8" font-weight="bold" fill="#111" textLength="50.2" lengthAdjust="spacingAndGlyphs">Content,</text>
<text x="439.7" y="932.8" font-size="13.8" font-weight="bold" fill="#111" textLength="45.7" lengthAdjust="spacingAndGlyphs">Version</text>
<text x="491.9" y="932.8" font-size="13.8" font-weight="bold" fill="#111" textLength="47.8" lengthAdjust="spacingAndGlyphs">Control,</text>
<text x="548.4" y="932.8" font-size="13.8" font-weight="bold" fill="#111" textLength="59.7" lengthAdjust="spacingAndGlyphs">Document</text>
<text x="616" y="932.8" font-size="13.8" font-weight="bold" fill="#111" textLength="56.9" lengthAdjust="spacingAndGlyphs">Overview,</text>
<text x="683.7" y="932.8" font-size="13.8" font-weight="bold" fill="#111" textLength="79.5" lengthAdjust="spacingAndGlyphs">Architecture</text>

<text x="8.5" y="949.0" font-size="13.8" font-weight="bold" fill="#111" textLength="51.5" lengthAdjust="spacingAndGlyphs">Decision</text>
<text x="67.8" y="949.0" font-size="13.8" font-weight="bold" fill="#111" textLength="44.0" lengthAdjust="spacingAndGlyphs">Record,</text>
<text x="120.3" y="949.0" font-size="13.8" font-weight="bold" fill="#111" textLength="81.9" lengthAdjust="spacingAndGlyphs">Requirements</text>
<text x="210" y="949.0" font-size="13.8" font-weight="bold" fill="#111" textLength="66.4" lengthAdjust="spacingAndGlyphs">Tracability</text>
<text x="283.9" y="949.0" font-size="13.8" font-weight="bold" fill="#111" textLength="41.3" lengthAdjust="spacingAndGlyphs">Matrix</text>
<text x="333" y="949.0" font-size="13.8" font-weight="bold" fill="#111" textLength="19.6" lengthAdjust="spacingAndGlyphs">and</text>
<text x="360.1" y="949.0" font-size="13.8" font-weight="bold" fill="#111" textLength="28.8" lengthAdjust="spacingAndGlyphs">more</text>

<rect x="1.4" y="957.8" width="794" height="62.8" fill="#6b3f82"/>
<g fill="none" stroke-width="2.5" stroke-linecap="butt"><path d="M18.5,975 A7,7 0 0 0 18.5,989" stroke="#fff"/><path d="M26.6,982.8 A7,7 0 0 1 40.6,982.8" stroke="#fff"/><path d="M11,995.8 A7,7 0 0 0 25,995.8" stroke="#fff"/><path d="M33,989.2 A7,7 0 0 1 33,1003.2" stroke="#fff"/></g>
<text x="48.3" y="1000.5" font-size="33" class="dj" fill="#fff" textLength="142.7" lengthAdjust="spacingAndGlyphs">Foursees</text>
<g fill="none" stroke="#fff" stroke-width="1.3"><path d="M259.3,972.2 H265.2 L280.3,992 H274.4 Z"/><path d="M279.3,972.2 L271.2,981.5 M268.2,984.6 L260.3,992"/></g>
<circle cx="335.1" cy="982.1" r="9.7" fill="#fff"/>
<text x="335.3" y="987.6" font-size="15" font-weight="bold" fill="#6b3f82" text-anchor="middle">f</text>
<rect x="391.1" y="972.4" width="19.9" height="19.3" fill="#fff"/>
<text x="401.2" y="988" font-size="15" font-weight="bold" fill="#6b3f82" text-anchor="middle" textLength="13.5" lengthAdjust="spacingAndGlyphs">in</text>
<text x="237.9" y="1005.5" font-size="11" fill="#d9cfe3" textLength="63.5" lengthAdjust="spacingAndGlyphs">@fourseesjo</text>
<text x="308.3" y="1005.5" font-size="11" fill="#d9cfe3" textLength="53.8" lengthAdjust="spacingAndGlyphs">@foursees</text>
<text x="373.7" y="1005.5" font-size="11" fill="#d9cfe3" textLength="53.9" lengthAdjust="spacingAndGlyphs">@foursees</text>
<text x="493" y="1015.4" font-size="10" font-weight="bold" fill="#e8e0ee" textLength="228.4" lengthAdjust="spacingAndGlyphs">Copyright © 2024 Foursees, All rights reserved</text>
<rect x="730" y="961" width="56.1" height="56.2" fill="#fff"/>
<path d="M734.20,965.80h15.73v2.30h-15.73zM752.18,965.80h2.25v2.30h-2.25zM756.68,965.80h6.74v2.30h-6.74zM765.67,965.80h15.73v2.30h-15.73zM734.20,968.05h2.25v2.30h-2.25zM747.69,968.05h2.25v2.30h-2.25zM752.18,968.05h4.50v2.30h-4.50zM761.17,968.05h2.25v2.30h-2.25zM765.67,968.05h2.25v2.30h-2.25zM779.15,968.05h2.25v2.30h-2.25zM734.20,970.30h2.25v2.30h-2.25zM738.70,970.30h6.74v2.30h-6.74zM747.69,970.30h2.25v2.30h-2.25zM754.43,970.30h4.50v2.30h-4.50zM761.17,970.30h2.25v2.30h-2.25zM765.67,970.30h2.25v2.30h-2.25zM770.16,970.30h6.74v2.30h-6.74zM779.15,970.30h2.25v2.30h-2.25zM734.20,972.54h2.25v2.30h-2.25zM738.70,972.54h6.74v2.30h-6.74zM747.69,972.54h2.25v2.30h-2.25zM752.18,972.54h4.50v2.30h-4.50zM758.92,972.54h4.50v2.30h-4.50zM765.67,972.54h2.25v2.30h-2.25zM770.16,972.54h6.74v2.30h-6.74zM779.15,972.54h2.25v2.30h-2.25zM734.20,974.79h2.25v2.30h-2.25zM738.70,974.79h6.74v2.30h-6.74zM747.69,974.79h2.25v2.30h-2.25zM754.43,974.79h4.50v2.30h-4.50zM765.67,974.79h2.25v2.30h-2.25zM770.16,974.79h6.74v2.30h-6.74zM779.15,974.79h2.25v2.30h-2.25zM734.20,977.04h2.25v2.30h-2.25zM747.69,977.04h2.25v2.30h-2.25zM754.43,977.04h2.25v2.30h-2.25zM765.67,977.04h2.25v2.30h-2.25zM779.15,977.04h2.25v2.30h-2.25zM734.20,979.29h15.73v2.30h-15.73zM752.18,979.29h2.25v2.30h-2.25zM756.68,979.29h2.25v2.30h-2.25zM761.17,979.29h2.25v2.30h-2.25zM765.67,979.29h15.73v2.30h-15.73zM752.18,981.53h2.25v2.30h-2.25zM756.68,981.53h2.25v2.30h-2.25zM734.20,983.78h2.25v2.30h-2.25zM738.70,983.78h13.49v2.30h-13.49zM765.67,983.78h2.25v2.30h-2.25zM770.16,983.78h4.50v2.30h-4.50zM776.90,983.78h4.50v2.30h-4.50zM738.70,986.03h8.99v2.30h-8.99zM749.93,986.03h4.50v2.30h-4.50zM761.17,986.03h2.25v2.30h-2.25zM767.91,986.03h4.50v2.30h-4.50zM774.66,986.03h6.74v2.30h-6.74zM736.45,988.28h2.25v2.30h-2.25zM743.19,988.28h8.99v2.30h-8.99zM761.17,988.28h4.50v2.30h-4.50zM767.91,988.28h2.25v2.30h-2.25zM772.41,988.28h4.50v2.30h-4.50zM779.15,988.28h2.25v2.30h-2.25zM738.70,990.52h8.99v2.30h-8.99zM754.43,990.52h4.50v2.30h-4.50zM761.17,990.52h11.24v2.30h-11.24zM774.66,990.52h2.25v2.30h-2.25zM779.15,990.52h2.25v2.30h-2.25zM734.20,992.77h6.74v2.30h-6.74zM745.44,992.77h4.50v2.30h-4.50zM754.43,992.77h2.25v2.30h-2.25zM758.92,992.77h4.50v2.30h-4.50zM765.67,992.77h2.25v2.30h-2.25zM770.16,992.77h4.50v2.30h-4.50zM776.90,992.77h2.25v2.30h-2.25zM752.18,995.02h4.50v2.30h-4.50zM758.92,995.02h2.25v2.30h-2.25zM763.42,995.02h4.50v2.30h-4.50zM770.16,995.02h4.50v2.30h-4.50zM779.15,995.02h2.25v2.30h-2.25zM734.20,997.27h15.73v2.30h-15.73zM752.18,997.27h4.50v2.30h-4.50zM758.92,997.27h4.50v2.30h-4.50zM765.67,997.27h6.74v2.30h-6.74zM774.66,997.27h2.25v2.30h-2.25zM734.20,999.51h2.25v2.30h-2.25zM747.69,999.51h2.25v2.30h-2.25zM752.18,999.51h2.25v2.30h-2.25zM756.68,999.51h4.50v2.30h-4.50zM763.42,999.51h6.74v2.30h-6.74zM772.41,999.51h6.74v2.30h-6.74zM734.20,1001.76h2.25v2.30h-2.25zM738.70,1001.76h6.74v2.30h-6.74zM747.69,1001.76h2.25v2.30h-2.25zM752.18,1001.76h6.74v2.30h-6.74zM761.17,1001.76h4.50v2.30h-4.50zM767.91,1001.76h4.50v2.30h-4.50zM774.66,1001.76h4.50v2.30h-4.50zM734.20,1004.01h2.25v2.30h-2.25zM738.70,1004.01h6.74v2.30h-6.74zM747.69,1004.01h2.25v2.30h-2.25zM754.43,1004.01h2.25v2.30h-2.25zM758.92,1004.01h8.99v2.30h-8.99zM776.90,1004.01h2.25v2.30h-2.25zM734.20,1006.26h2.25v2.30h-2.25zM738.70,1006.26h6.74v2.30h-6.74zM747.69,1006.26h2.25v2.30h-2.25zM752.18,1006.26h2.25v2.30h-2.25zM756.68,1006.26h13.49v2.30h-13.49zM734.20,1008.50h2.25v2.30h-2.25zM747.69,1008.50h2.25v2.30h-2.25zM754.43,1008.50h2.25v2.30h-2.25zM758.92,1008.50h13.49v2.30h-13.49zM779.15,1008.50h2.25v2.30h-2.25zM734.20,1010.75h15.73v2.30h-15.73zM752.18,1010.75h2.25v2.30h-2.25zM758.92,1010.75h8.99v2.30h-8.99zM770.16,1010.75h6.74v2.30h-6.74z" fill="#000"/>
</g>
</svg>
</body>
</html>
